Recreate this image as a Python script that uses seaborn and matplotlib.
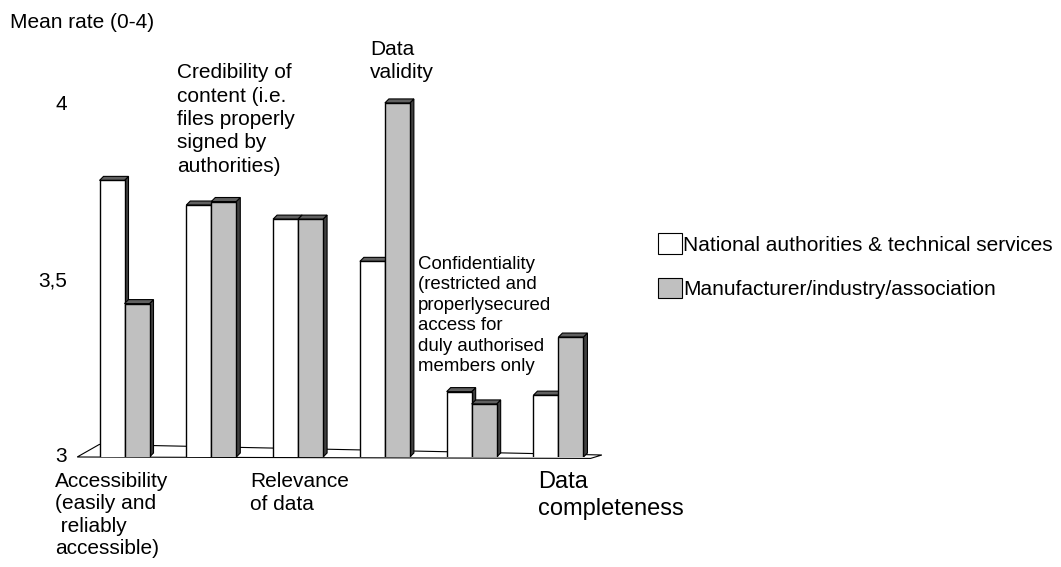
import numpy as np
import pandas as pd
import matplotlib
matplotlib.use("Agg")
import matplotlib.pyplot as plt
from matplotlib.patches import Polygon, Patch
import seaborn as sns

# data (mean rate, scale 0-4, axis shown from 3)
categories = ["Accessibility", "Credibility", "Relevance", "Validity",
              "Confidentiality", "Completeness"]
national = [3.78, 3.71, 3.67, 3.55, 3.18, 3.17]
manufacturer = [3.43, 3.72, 3.67, 4.00, 3.145, 3.335]
series = ["National authorities & technical services",
          "Manufacturer/industry/association"]
yticks = [3, 3.5, 4]
ytick_labels = ["3", "3,5", "4"]

df = pd.DataFrame({
    "category": categories * 2,
    "group": [series[0]] * len(categories) + [series[1]] * len(categories),
    "rate": national + manufacturer,
})

sns.set_style("white")
plt.rcParams["font.family"] = ["Liberation Sans", "DejaVu Sans"]
plt.rcParams["text.color"] = "black"
plt.rcParams["ytick.color"] = "black"
plt.rcParams["ytick.labelcolor"] = "black"

W, H = 1061, 567
fig = plt.figure(figsize=(W / 100, H / 100), dpi=100)
ax = fig.add_axes([70 / W, 1 - 457 / H, 550 / W, 397 / H])

colors = {series[0]: "white", series[1]: "#C0C0C0"}
sns.barplot(data=df, x="category", y="rate", hue="group", hue_order=series,
            order=categories, palette=colors, width=0.576, edgecolor="black",
            linewidth=1.0, legend=False, ax=ax)

ylo, yhi = 2.9943, 4.122
ax.set_xlim(-0.628, 5.709)
ax.set_ylim(ylo, yhi)

# fake 3D depth: right side and top face of every bar
dx, dy = 0.046, 0.0114
for i, p in enumerate(ax.patches):
    x, w, top = p.get_x(), p.get_width(), p.get_height()
    z = 2 + (i // len(categories))
    side = Polygon([(x + w, ylo), (x + w + dx, ylo + dy), (x + w + dx, top + dy), (x + w, top)],
                   closed=True, facecolor="#404040", edgecolor="black", linewidth=0.8, zorder=z)
    lid = Polygon([(x, top), (x + dx, top + dy), (x + w + dx, top + dy), (x + w, top)],
                  closed=True, facecolor="#606060", edgecolor="black", linewidth=0.8, zorder=z)
    ax.add_patch(side)
    ax.add_patch(lid)
    p.set_zorder(z + 0.1)

# floor
floor = Polygon([(-0.545, ylo), (5.37, ylo - 0.004), (5.5, 3.0), (-0.29, 3.03)],
                closed=True, facecolor="white", edgecolor="black", linewidth=0.8,
                zorder=1, clip_on=False)
ax.add_patch(floor)

ax.set_xticks([])
ax.set_yticks(yticks)
ax.set_yticklabels(ytick_labels, fontsize=15)
ax.tick_params(axis="y", length=0, pad=2)
ax.set_xlabel("")
ax.set_ylabel("")
sns.despine(ax=ax, left=True, bottom=True)


def ftext(px, py, s, size=15, ls=1.3):
    fig.text(px / W, 1 - py / H, s, fontsize=size, ha="left", va="top", linespacing=ls)


ftext(10, 13, "Mean rate (0-4)")
ftext(55, 472, "Accessibility\n(easily and\n reliably\naccessible)", ls=1.22)
ftext(177, 63, "Credibility of\ncontent (i.e.\nfiles properly\nsigned by\nauthorities)")
ftext(250, 472, "Relevance\nof data")
ftext(370, 40, "Data\nvalidity")
ftext(418, 256, "Confidentiality\n(restricted and\nproperlysecured\naccess for\nduly authorised\nmembers only",
      size=13.4, ls=1.26)
ftext(538, 471, "Data\ncompleteness", size=17, ls=1.28)

handles = [Patch(facecolor=colors[s], edgecolor="black", linewidth=0.8) for s in series]
fig.legend(handles, series, loc="upper left", bbox_to_anchor=(650 / W, 1 - 225 / H),
           frameon=False, fontsize=15, handlelength=1.15, handleheight=1.15,
           handletextpad=0.05, labelspacing=1.1, borderaxespad=0)

fig.savefig("out.png", dpi=100)
